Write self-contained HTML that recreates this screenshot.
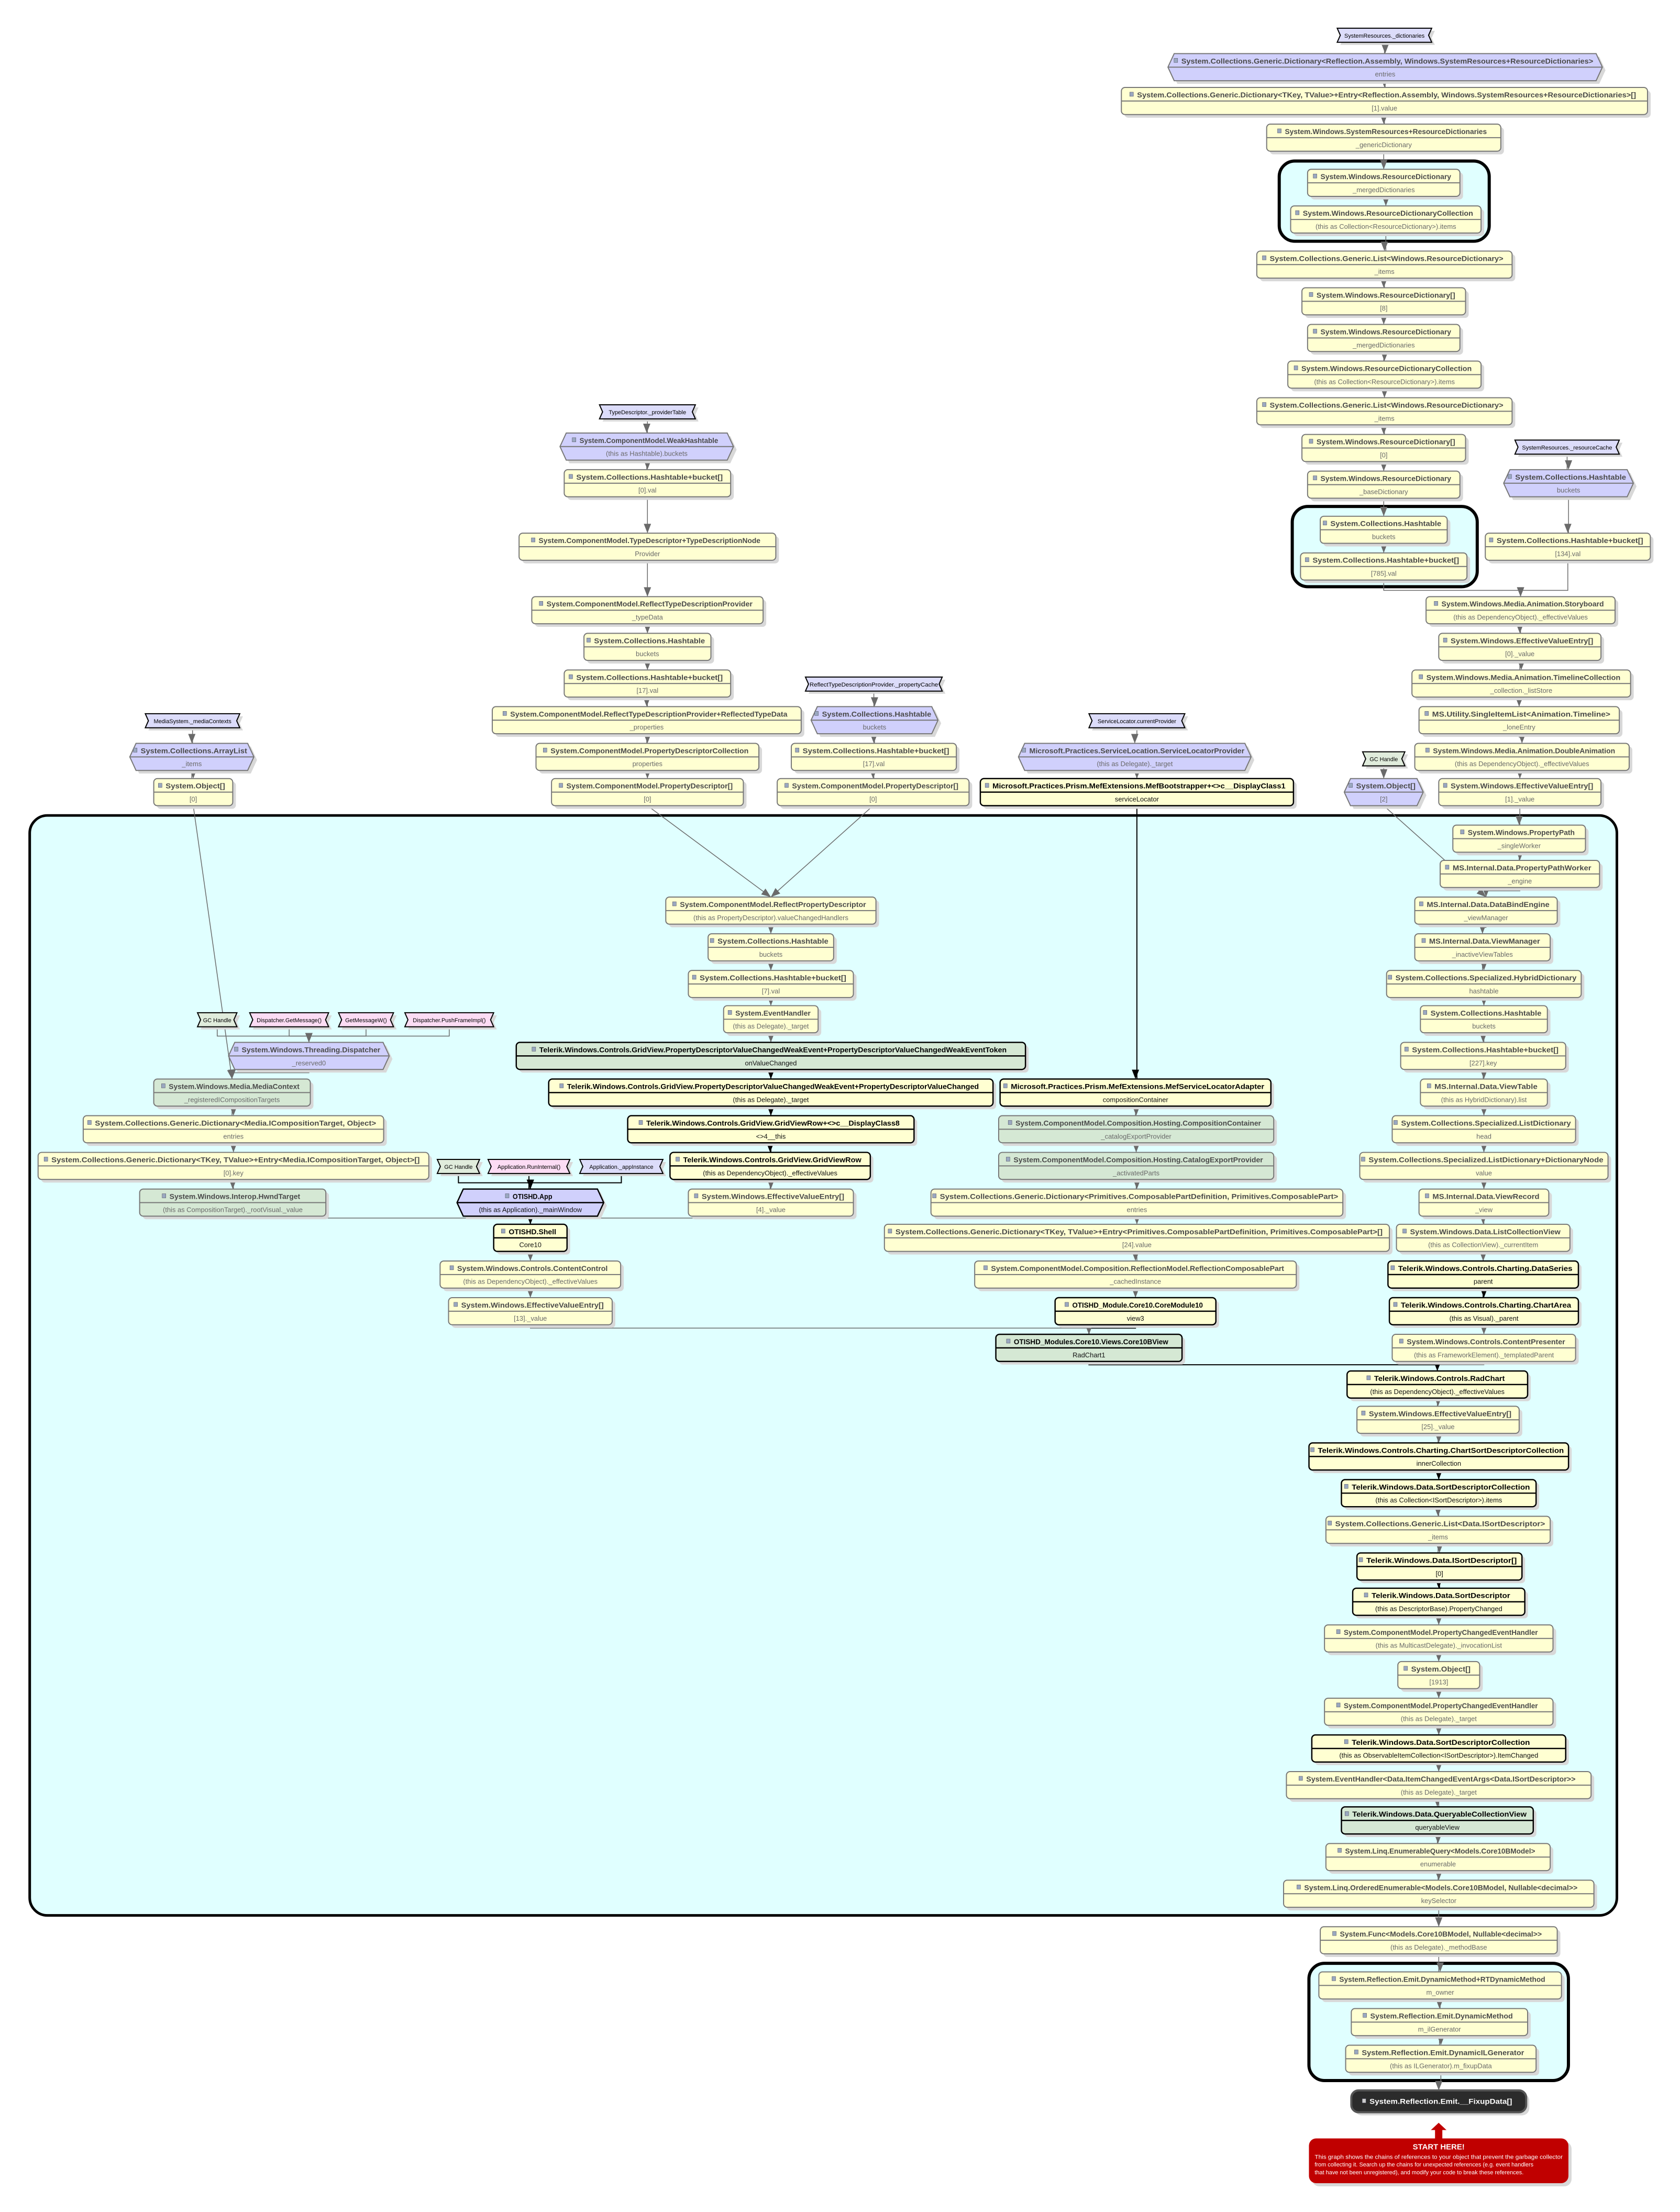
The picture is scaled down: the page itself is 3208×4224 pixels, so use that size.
<!DOCTYPE html>
<html><head><meta charset="utf-8">
<style>
html,body{margin:0;padding:0;background:#fff;}
svg{display:block;}
text{font-family:"Liberation Sans",sans-serif;}
.t{font-size:14px;font-weight:bold;}
.s{font-size:13px;}
.l{font-size:11px;}
</style></head>
<body>
<svg id="g" xmlns="http://www.w3.org/2000/svg" width="3208" height="4224" viewBox="0 0 3208 4224">
<g transform="scale(0.995)">
<g id="groups">
<rect x="57" y="1565" width="3046" height="2111" rx="34" fill="#e0ffff" stroke="#000" stroke-width="5"/>
<rect x="2455" y="309" width="403" height="154" rx="30" fill="#e0ffff" stroke="#000" stroke-width="6"/>
<rect x="2480" y="972" width="355" height="154" rx="30" fill="#e0ffff" stroke="#000" stroke-width="6"/>
<rect x="2512" y="3768" width="498" height="225" rx="30" fill="#e0ffff" stroke="#000" stroke-width="6"/>
</g>
<g id="edges"></g>
<g id="nodes"></g>
<g>
<polygon points="2761,4074 2776,4088 2768,4088 2768,4104 2754,4104 2754,4088 2746,4088" fill="#c00000"/>
<rect x="2518" y="4110" width="498" height="86" rx="14" fill="#d8d8d8"/>
<rect x="2512" y="4104" width="498" height="86" rx="14" fill="#c00000"/>
<text x="2761" y="4125" text-anchor="middle" fill="#fff" style="font-size:15px;font-weight:bold">START HERE!</text>
<text x="2523" y="4143" fill="#fff" style="font-size:11px" textLength="476" lengthAdjust="spacingAndGlyphs">This graph shows the chains of references to your object that prevent the garbage collector</text>
<text x="2523" y="4158" fill="#fff" style="font-size:11px">from collecting it. Search up the chains for unexpected references (e.g. event handlers</text>
<text x="2523" y="4173" fill="#fff" style="font-size:11px">that have not been unregistered), and modify your code to break these references.</text>
</g>
</g>
</svg>
<script>
const S=2.707;
const N={
l1:[948,1015,20,"SystemResources._dictionaries","","lv"],
a2:[828,1136,38,"System.Collections.Generic.Dictionary<Reflection.Assembly, Windows.SystemResources+ResourceDictionaries>","entries","b"],
a3:[795,1168,62,"System.Collections.Generic.Dictionary<TKey, TValue>+Entry<Reflection.Assembly, Windows.SystemResources+ResourceDictionaries>[]","[1].value","y"],
a4:[898,1064,88,"System.Windows.SystemResources+ResourceDictionaries","_genericDictionary","y"],
a5:[927,1035,120,"System.Windows.ResourceDictionary","_mergedDictionaries","y"],
a6:[915,1050,146,"System.Windows.ResourceDictionaryCollection","(this as Collection<ResourceDictionary>).items","y"],
a7:[891,1072,178,"System.Collections.Generic.List<Windows.ResourceDictionary>","_items","y"],
a8:[923,1039,204,"System.Windows.ResourceDictionary[]","[8]","y"],
a9:[927,1035,230,"System.Windows.ResourceDictionary","_mergedDictionaries","y"],
a10:[913,1050,256,"System.Windows.ResourceDictionaryCollection","(this as Collection<ResourceDictionary>).items","y"],
a11:[891,1072,282,"System.Collections.Generic.List<Windows.ResourceDictionary>","_items","y"],
a12:[923,1039,308,"System.Windows.ResourceDictionary[]","[0]","y"],
a13:[927,1035,334,"System.Windows.ResourceDictionary","_baseDictionary","y"],
a14:[936,1026,366,"System.Collections.Hashtable","buckets","y"],
a15:[922,1040,392,"System.Collections.Hashtable+bucket[]","[785].val","y"],
l2:[1074,1148,312,"SystemResources._resourceCache","","lv"],
r1:[1066,1158,333,"System.Collections.Hashtable","buckets","b"],
r2:[1053,1170,378,"System.Collections.Hashtable+bucket[]","[134].val","y"],
r3:[1011,1145,423,"System.Windows.Media.Animation.Storyboard","(this as DependencyObject)._effectiveValues","y"],
r4:[1020,1135,449,"System.Windows.EffectiveValueEntry[]","[0]._value","y"],
r5:[1001,1156,475,"System.Windows.Media.Animation.TimelineCollection","_collection._listStore","y"],
r6:[1006,1148,501,"MS.Utility.SingleItemList<Animation.Timeline>","_loneEntry","y"],
r7:[1003,1155,527,"System.Windows.Media.Animation.DoubleAnimation","(this as DependencyObject)._effectiveValues","y"],
r8:[1020,1135,552,"System.Windows.EffectiveValueEntry[]","[1]._value","y"],
l3:[966,996,533,"GC Handle","","lg"],
o2:[953,1009,552,"System.Object[]","[2]","b"],
c1:[1030,1124,585,"System.Windows.PropertyPath","_singleWorker","y"],
c2:[1021,1134,610,"MS.Internal.Data.PropertyPathWorker","_engine","y"],
c3:[1003,1104,636,"MS.Internal.Data.DataBindEngine","_viewManager","y"],
c4:[1003,1099,662,"MS.Internal.Data.ViewManager","_inactiveViewTables","y"],
c5:[983,1121,688,"System.Collections.Specialized.HybridDictionary","hashtable","y"],
c6:[1007,1097,713,"System.Collections.Hashtable","buckets","y"],
c7:[993,1110,739,"System.Collections.Hashtable+bucket[]","[227].key","y"],
c8:[1007,1097,765,"MS.Internal.Data.ViewTable","(this as HybridDictionary).list","y"],
c9:[987,1117,791,"System.Collections.Specialized.ListDictionary","head","y"],
c10:[964,1140,817,"System.Collections.Specialized.ListDictionary+DictionaryNode","value","y"],
c11:[1006,1098,843,"MS.Internal.Data.ViewRecord","_view","y"],
c12:[990,1113,868,"System.Windows.Data.ListCollectionView","(this as CollectionView)._currentItem","y"],
c13:[984,1119,894,"Telerik.Windows.Controls.Charting.DataSeries","parent","yb"],
c14:[985,1119,920,"Telerik.Windows.Controls.Charting.ChartArea","(this as Visual)._parent","yb"],
c15:[987,1117,946,"System.Windows.Controls.ContentPresenter","(this as FrameworkElement)._templatedParent","y"],
c16:[955,1083,972,"Telerik.Windows.Controls.RadChart","(this as DependencyObject)._effectiveValues","yb"],
c17:[962,1077,997,"System.Windows.EffectiveValueEntry[]","[25]._value","y"],
c18:[928,1112,1023,"Telerik.Windows.Controls.Charting.ChartSortDescriptorCollection","innerCollection","yb"],
c19:[951,1089,1049,"Telerik.Windows.Data.SortDescriptorCollection","(this as Collection<ISortDescriptor>).items","yb"],
c20:[940,1099,1075,"System.Collections.Generic.List<Data.ISortDescriptor>","_items","y"],
c21:[962,1079,1101,"Telerik.Windows.Data.ISortDescriptor[]","[0]","yb"],
c22:[959,1081,1126,"Telerik.Windows.Data.SortDescriptor","(this as DescriptorBase).PropertyChanged","yb"],
c23:[939,1101,1152,"System.ComponentModel.PropertyChangedEventHandler","(this as MulticastDelegate)._invocationList","y"],
c24:[991,1049,1178,"System.Object[]","[1913]","y"],
c25:[939,1101,1204,"System.ComponentModel.PropertyChangedEventHandler","(this as Delegate)._target","y"],
c26:[930,1110,1230,"Telerik.Windows.Data.SortDescriptorCollection","(this as ObservableItemCollection<ISortDescriptor>).ItemChanged","yb"],
c27:[912,1128,1256,"System.EventHandler<Data.ItemChangedEventArgs<Data.ISortDescriptor>>","(this as Delegate)._target","y"],
c28:[951,1087,1281,"Telerik.Windows.Data.QueryableCollectionView","queryableView","gb"],
c29:[940,1099,1307,"System.Linq.EnumerableQuery<Models.Core10BModel>","enumerable","y"],
c30:[910,1130,1333,"System.Linq.OrderedEnumerable<Models.Core10BModel, Nullable<decimal>>","keySelector","y"],
c31:[936,1104,1366,"System.Func<Models.Core10BModel, Nullable<decimal>>","(this as Delegate)._methodBase","y"],
c32:[935,1107,1398,"System.Reflection.Emit.DynamicMethod+RTDynamicMethod","m_owner","y"],
c33:[958,1083,1424,"System.Reflection.Emit.DynamicMethod","m_ilGenerator","y"],
c34:[954,1089,1450,"System.Reflection.Emit.DynamicILGenerator","(this as ILGenerator).m_fixupData","y"],
c35:[958,1082,1482,"System.Reflection.Emit.__FixupData[]","","dk"],
l4:[425,493,287,"TypeDescriptor._providerTable","","lv"],
t1:[397,520,307,"System.ComponentModel.WeakHashtable","(this as Hashtable).buckets","b"],
t2:[400,518,333,"System.Collections.Hashtable+bucket[]","[0].val","y"],
t3:[368,550,378,"System.ComponentModel.TypeDescriptor+TypeDescriptionNode","Provider","y"],
t4:[377,541,423,"System.ComponentModel.ReflectTypeDescriptionProvider","_typeData","y"],
t5:[414,504,449,"System.Collections.Hashtable","buckets","y"],
t6:[400,518,475,"System.Collections.Hashtable+bucket[]","[17].val","y"],
t7:[349,568,501,"System.ComponentModel.ReflectTypeDescriptionProvider+ReflectedTypeData","_properties","y"],
t8:[380,538,527,"System.ComponentModel.PropertyDescriptorCollection","properties","y"],
t9:[391,527,552,"System.ComponentModel.PropertyDescriptor[]","[0]","y"],
l5:[571,668,480,"ReflectTypeDescriptionProvider._propertyCache","","lv"],
p1:[575,665,501,"System.Collections.Hashtable","buckets","b"],
p2:[561,678,527,"System.Collections.Hashtable+bucket[]","[17].val","y"],
p3:[551,687,552,"System.ComponentModel.PropertyDescriptor[]","[0]","y"],
l6:[772,840,506,"ServiceLocator.currentProvider","","lv"],
s1:[722,887,527,"Microsoft.Practices.ServiceLocation.ServiceLocatorProvider","(this as Delegate)._target","b"],
s2:[695,917,552,"Microsoft.Practices.Prism.MefExtensions.MefBootstrapper+<>c__DisplayClass1","serviceLocator","yb"],
l7:[103,170,506,"MediaSystem._mediaContexts","","lv"],
m1:[92,180,527,"System.Collections.ArrayList","_items","b"],
m2:[109,165,552,"System.Object[]","[0]","y"],
g1:[472,621,636,"System.ComponentModel.ReflectPropertyDescriptor","(this as PropertyDescriptor).valueChangedHandlers","y"],
g2:[502,591,662,"System.Collections.Hashtable","buckets","y"],
g3:[488,605,688,"System.Collections.Hashtable+bucket[]","[7].val","y"],
g4:[513,580,713,"System.EventHandler","(this as Delegate)._target","y"],
g5:[366,727,739,"Telerik.Windows.Controls.GridView.PropertyDescriptorValueChangedWeakEvent+PropertyDescriptorValueChangedWeakEventToken","onValueChanged","gb"],
g6:[389,704,765,"Telerik.Windows.Controls.GridView.PropertyDescriptorValueChangedWeakEvent+PropertyDescriptorValueChanged","(this as Delegate)._target","yb"],
g7:[445,648,791,"Telerik.Windows.Controls.GridView.GridViewRow+<>c__DisplayClass8","<>4__this","yb"],
g8:[475,617,817,"Telerik.Windows.Controls.GridView.GridViewRow","(this as DependencyObject)._effectiveValues","yb"],
g9:[488,605,843,"System.Windows.EffectiveValueEntry[]","[4]._value","y"],
l8:[140,168,718,"GC Handle","","lg"],
l9:[177,233,718,"Dispatcher.GetMessage()","","lp"],
l10:[240,279,718,"GetMessageW()","","lp"],
l11:[287,350,718,"Dispatcher.PushFrameImpl()","","lp"],
d1:[162,276,739,"System.Windows.Threading.Dispatcher","_reserved0","b"],
d2:[109,220,765,"System.Windows.Media.MediaContext","_registeredICompositionTargets","g"],
d3:[59,272,791,"System.Collections.Generic.Dictionary<Media.ICompositionTarget, Object>","entries","y"],
d4:[27,304,817,"System.Collections.Generic.Dictionary<TKey, TValue>+Entry<Media.ICompositionTarget, Object>[]","[0].key","y"],
d5:[99,231,843,"System.Windows.Interop.HwndTarget","(this as CompositionTarget)._rootVisual._value","g"],
l12:[310,340,822,"GC Handle","","lg"],
l13:[346,404,822,"Application.RunInternal()","","lp"],
l14:[411,470,822,"Application._appInstance","","lv"],
h1:[324,428,843,"OTISHD.App","(this as Application)._mainWindow","bb"],
h2:[350,402,868,"OTISHD.Shell","Core10","yb"],
h3:[312,440,894,"System.Windows.Controls.ContentControl","(this as DependencyObject)._effectiveValues","y"],
h4:[318,434,920,"System.Windows.EffectiveValueEntry[]","[13]._value","y"],
k1:[709,901,765,"Microsoft.Practices.Prism.MefExtensions.MefServiceLocatorAdapter","compositionContainer","yb"],
k2:[708,903,791,"System.ComponentModel.Composition.Hosting.CompositionContainer","_catalogExportProvider","g"],
k3:[708,903,817,"System.ComponentModel.Composition.Hosting.CatalogExportProvider","_activatedParts","g"],
k4:[660,952,843,"System.Collections.Generic.Dictionary<Primitives.ComposablePartDefinition, Primitives.ComposablePart>","entries","y"],
k5:[627,985,868,"System.Collections.Generic.Dictionary<TKey, TValue>+Entry<Primitives.ComposablePartDefinition, Primitives.ComposablePart>[]","[24].value","y"],
k6:[691,919,894,"System.ComponentModel.Composition.ReflectionModel.ReflectionComposablePart","_cachedInstance","y"],
k7:[748,862,920,"OTISHD_Module.Core10.CoreModule10","view3","yb"],
k8:[706,838,946,"OTISHD_Modules.Core10.Views.Core10BView","RadChart1","gb"]
};
function chain(a){const r=[];for(let i=0;i<a.length-1;i++)r.push([a[i],a[i+1]]);return r;}
let E=[];
E=E.concat(chain(["l1","a2","a3","a4","a5","a6","a7","a8","a9","a10","a11","a12","a13","a14","a15","r3"]));
E=E.concat(chain(["l2","r1","r2","r3","r4","r5","r6","r7","r8","c1"]));
E=E.concat(chain(["l3","o2","c3"]));
const cc=[];for(let i=1;i<=35;i++)cc.push("c"+i);E=E.concat(chain(cc));
E=E.concat(chain(["l4","t1","t2","t3","t4","t5","t6","t7","t8","t9","g1"]));
E=E.concat(chain(["l5","p1","p2","p3","g1"]));
E=E.concat(chain(["g1","g2","g3","g4","g5","g6","g7","g8","g9","h2"]));
E=E.concat(chain(["l6","s1","s2","k1","k2","k3","k4","k5","k6","k7","k8","c16"]));
E=E.concat(chain(["l7","m1","m2","d2"]));
E=E.concat([["l8","d1"],["l9","d1"],["l10","d1"],["l11","d1"]]);
E=E.concat(chain(["d1","d2","d3","d4","d5","h2"]));
E=E.concat([["l12","h1"],["l13","h1"],["l14","h1"]]);
E=E.concat(chain(["h1","h2","h3","h4","k8"]));
const ns="http://www.w3.org/2000/svg";
function el(t,a,p){const e=document.createElementNS(ns,t);for(const k in a)e.setAttribute(k,a[k]);p.appendChild(e);return e;}
const G={};
for(const id in N){const n=N[id];const st=n[5];
 const x=n[0]*S,w=(n[1]-n[0])*S,y=n[2]*S;
 const h=st[0]=="l"?27:(st=="dk"?42:52);
 G[id]={x,y,w,h,st};}
const eg=document.getElementById("edges");
for(const [a,b] of E){const A=G[a],B=G[b];
 const sx=A.x+A.w/2,sy=A.y+A.h,tx=B.x+B.w/2,ty=B.y;
 const blk=(B.st=="yb"||B.st=="gb"||B.st=="bb")&&(A.st=="yb"||A.st=="gb"||A.st=="bb"||A.st[0]=="l");
 const col=blk?"#000":"#6a6a6a";
 let d;
 if(Math.abs(sx-tx)<3) d=`M${sx},${sy} L${sx},${ty}`;
 else if(ty-sy>150) d=`M${sx},${sy} L${tx},${ty}`;
 else {const my=ty-12; d=`M${sx},${sy} L${sx},${my} L${tx},${my} L${tx},${ty}`;}
 el("path",{d,fill:"none",stroke:col,"stroke-width":blk?2:1.5},eg);
 const ax=tx,ay=ty;let ang=0;
 if(ty-sy>150&&Math.abs(sx-tx)>=3){ang=Math.atan2(ty-sy,tx-sx)*180/Math.PI-90;}
 el("path",{d:`M${-7},-18 L7,-18 L0,0 z`,fill:col,transform:`translate(${ax},${ay}) rotate(${ang})`},eg);
}
const ng=document.getElementById("nodes");
const fills={y:"#ffffd2",yb:"#ffffd2",g:"#d5e8d4",gb:"#d5e8d4",b:"#d0d0fc",bb:"#d0d0fc",lv:"#dcdcfa",lp:"#fcdcf4",lg:"#e0ecdc",dk:"#2b2b2b"};
for(const id in N){const n=N[id],g=G[id],st=g.st;const {x,y,w,h}=g;
 const black=(st=="yb"||st=="gb"||st=="bb");
 const bc=black?"#000":(st[0]=="l"?"#000":"#777");
 const sw=black?2.5:2;
 const cx=x+w/2;
 if(st[0]=="l"){
  const p=(dx,dy)=>`${x},${y+dy} ${x+w},${y+dy} ${x+w-6},${y+h/2+dy} ${x+w},${y+h+dy} ${x},${y+h+dy} ${x+6},${y+h/2+dy}`;
  el("polygon",{points:p(0,5).split(" ").map(s=>{const [a,b]=s.split(",");return (+a+6)+","+b}).join(" "),fill:"#d8d8d8"},ng);
  el("polygon",{points:p(0,0),fill:fills[st],stroke:"#000","stroke-width":2},ng);
  const t=el("text",{x:cx,y:y+18,"text-anchor":"middle",class:"l",fill:"#000"},ng);t.textContent=n[3];
  const est=n[3].length*5.6;if(est>w-16)t.setAttribute("textLength",w-16),t.setAttribute("lengthAdjust","spacingAndGlyphs");
  continue;}
 if(st=="b"||st=="bb"){
  const pts=(o)=>`${x+12+o},${y+o} ${x+w-12+o},${y+o} ${x+w+o},${y+h/2+o} ${x+w-12+o},${y+h+o} ${x+12+o},${y+h+o} ${x+o},${y+h/2+o}`;
  el("polygon",{points:pts(6),fill:"#d8d8d8"},ng);
  el("polygon",{points:pts(0),fill:fills[st],stroke:bc,"stroke-width":sw},ng);
  el("line",{x1:x+1,y1:y+h/2,x2:x+w-1,y2:y+h/2,stroke:bc,"stroke-width":sw},ng);
 } else if(st=="dk"){
  el("rect",{x:x+6,y:y+6,width:w,height:h,rx:14,fill:"#d8d8d8"},ng);
  el("rect",{x,y,width:w,height:h,rx:14,fill:"#2b2b2b",stroke:"#555","stroke-width":4},ng);
 } else {
  el("rect",{x:x+6,y:y+6,width:w,height:h,rx:7,fill:"#d8d8d8"},ng);
  el("rect",{x,y,width:w,height:h,rx:7,fill:fills[st],stroke:bc,"stroke-width":sw},ng);
  el("line",{x1:x,y1:y+h/2,x2:x+w,y2:y+h/2,stroke:bc,"stroke-width":sw},ng);
 }
 const ty=st=="dk"?y+26:y+19;
 const pad=(st=="b"||st=="bb")?34:26;
 const tw=Math.min(n[3].length*7.6,w-pad);
 const ix=cx-tw/2-10;
 el("rect",{x:ix,y:ty-10,width:7,height:8,fill:st=="dk"?"#ccc":"#9aa8c0",stroke:"#556","stroke-width":0.6},ng);
 const t=el("text",{x:cx+4,y:ty,"text-anchor":"middle",class:"t",fill:st=="dk"?"#fff":(black?"#000":"#4a4a4a"),textLength:tw,lengthAdjust:"spacingAndGlyphs"},ng);t.textContent=n[3];
 if(n[4]){const s=el("text",{x:cx,y:y+44,"text-anchor":"middle",class:"s",fill:black?"#111":"#6a6a6a"},ng);s.textContent=n[4];
  if(n[4].length*6.3>w-14){s.setAttribute("textLength",w-14);s.setAttribute("lengthAdjust","spacingAndGlyphs");}}
}
</script>
</body></html>
